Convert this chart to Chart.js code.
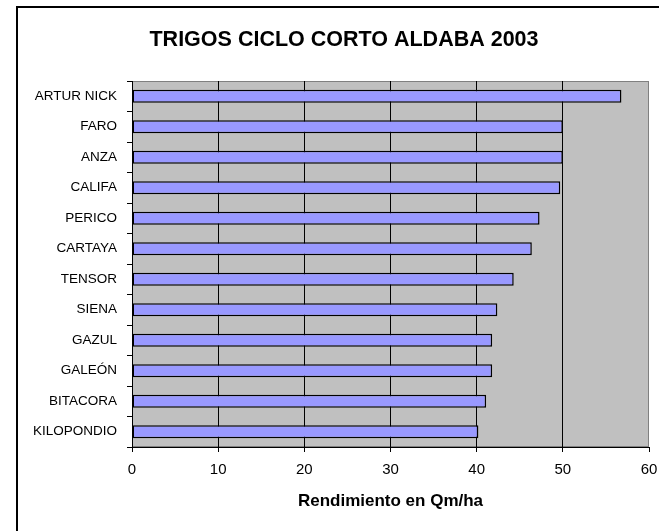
<!DOCTYPE html>
<html>
<head>
<meta charset="utf-8">
<script src="https://cdn.jsdelivr.net/npm/chart.js@4/dist/chart.umd.min.js"></script>
<style>
  html, body { margin: 0; padding: 0; background: #fff; }
  #wrap { position: relative; width: 659px; height: 531px; }
  canvas { display: block; }
</style>
</head>
<body>
<div id="wrap"><canvas id="c" width="659" height="531"></canvas></div>
<script>
const chartTitle = 'TRIGOS CICLO CORTO ALDABA 2003';
const axisTitle = 'Rendimiento en Qm/ha';
const categories = ['ARTUR NICK', 'FARO', 'ANZA', 'CALIFA', 'PERICO', 'CARTAYA', 'TENSOR', 'SIENA', 'GAZUL', 'GALEÓN', 'BITACORA', 'KILOPONDIO'];
const rendimiento = [56.8, 50.0, 50.0, 49.7, 47.3, 46.4, 44.3, 42.4, 41.8, 41.8, 41.1, 40.2];
const xTicks = [0, 10, 20, 30, 40, 50, 60];

const FONT = '"Liberation Sans", Arial, sans-serif';

const framePlugin = {
  id: 'frame',
  beforeDraw(chart) {
    const ctx = chart.ctx;
    const a = chart.chartArea;
    ctx.save();
    ctx.fillStyle = '#fff';
    ctx.fillRect(0, 0, chart.width, chart.height);
    // outer border (left and top visible)
    ctx.strokeStyle = '#000';
    ctx.lineWidth = 2;
    ctx.beginPath();
    ctx.moveTo(17, chart.height + 5);
    ctx.lineTo(17, 7);
    ctx.lineTo(chart.width + 5, 7);
    ctx.stroke();
    // plot area
    ctx.fillStyle = '#C0C0C0';
    ctx.fillRect(a.left, a.top, a.right - a.left, a.bottom - a.top);
    ctx.strokeStyle = '#808080';
    ctx.lineWidth = 1;
    ctx.strokeRect(a.left + 0.5, a.top + 0.5, a.right - a.left - 1, a.bottom - a.top - 1);
    // title
    ctx.fillStyle = '#000';
    ctx.font = 'bold 21.5px ' + FONT;
    ctx.textAlign = 'center';
    ctx.textBaseline = 'alphabetic';
    ctx.fillText(chartTitle, 344, 46);
    ctx.restore();
  }
};

function noPad(scale) {
  scale.paddingLeft = 0;
  scale.paddingRight = 0;
  scale.paddingTop = 0;
  scale.paddingBottom = 0;
}

new Chart(document.getElementById('c'), {
  type: 'bar',
  data: {
    labels: categories,
    datasets: [{
      data: rendimiento,
      backgroundColor: '#9999FF',
      borderColor: '#000',
      borderWidth: 1.5,
      borderSkipped: false,
      barPercentage: 0.42,
      categoryPercentage: 1.0
    }]
  },
  options: {
    indexAxis: 'y',
    responsive: false,
    animation: false,
    devicePixelRatio: 1,
    layout: { padding: { top: 81, right: 10, bottom: 0, left: 0 } },
    plugins: {
      legend: { display: false },
      title: { display: false },
      tooltip: { enabled: false }
    },
    scales: {
      x: {
        type: 'linear',
        min: 0,
        max: 60,
        afterBuildTicks(scale) { scale.ticks = xTicks.map(v => ({ value: v })); },
        afterFit(scale) { scale.height = 84; noPad(scale); },
        grid: {
          display: true,
          drawOnChartArea: true,
          drawTicks: true,
          tickLength: 5,
          color: (c) => (c.tick && (c.tick.value === 0 || c.tick.value === 60)) ? 'rgba(0,0,0,0)' : '#000',
          tickColor: '#000',
          lineWidth: 1
        },
        border: { display: true, color: '#000', width: 1 },
        ticks: {
          color: '#000',
          font: { family: FONT, size: 15 },
          padding: 9,
          maxRotation: 0,
          autoSkip: false
        },
        title: {
          display: true,
          text: axisTitle,
          color: '#000',
          font: { family: FONT, size: 17, weight: 'bold' },
          padding: { top: 0, bottom: 19 }
        }
      },
      y: {
        type: 'category',
        afterFit(scale) { scale.width = 132; noPad(scale); },
        grid: {
          display: true,
          offset: true,
          drawOnChartArea: false,
          drawTicks: true,
          tickLength: 5,
          tickColor: '#000',
          color: '#000'
        },
        border: { display: true, color: '#000', width: 1 },
        ticks: {
          color: '#000',
          font: { family: FONT, size: 13.5 },
          padding: 10,
          autoSkip: false
        }
      }
    }
  },
  plugins: [framePlugin]
});
</script>
</body>
</html>
